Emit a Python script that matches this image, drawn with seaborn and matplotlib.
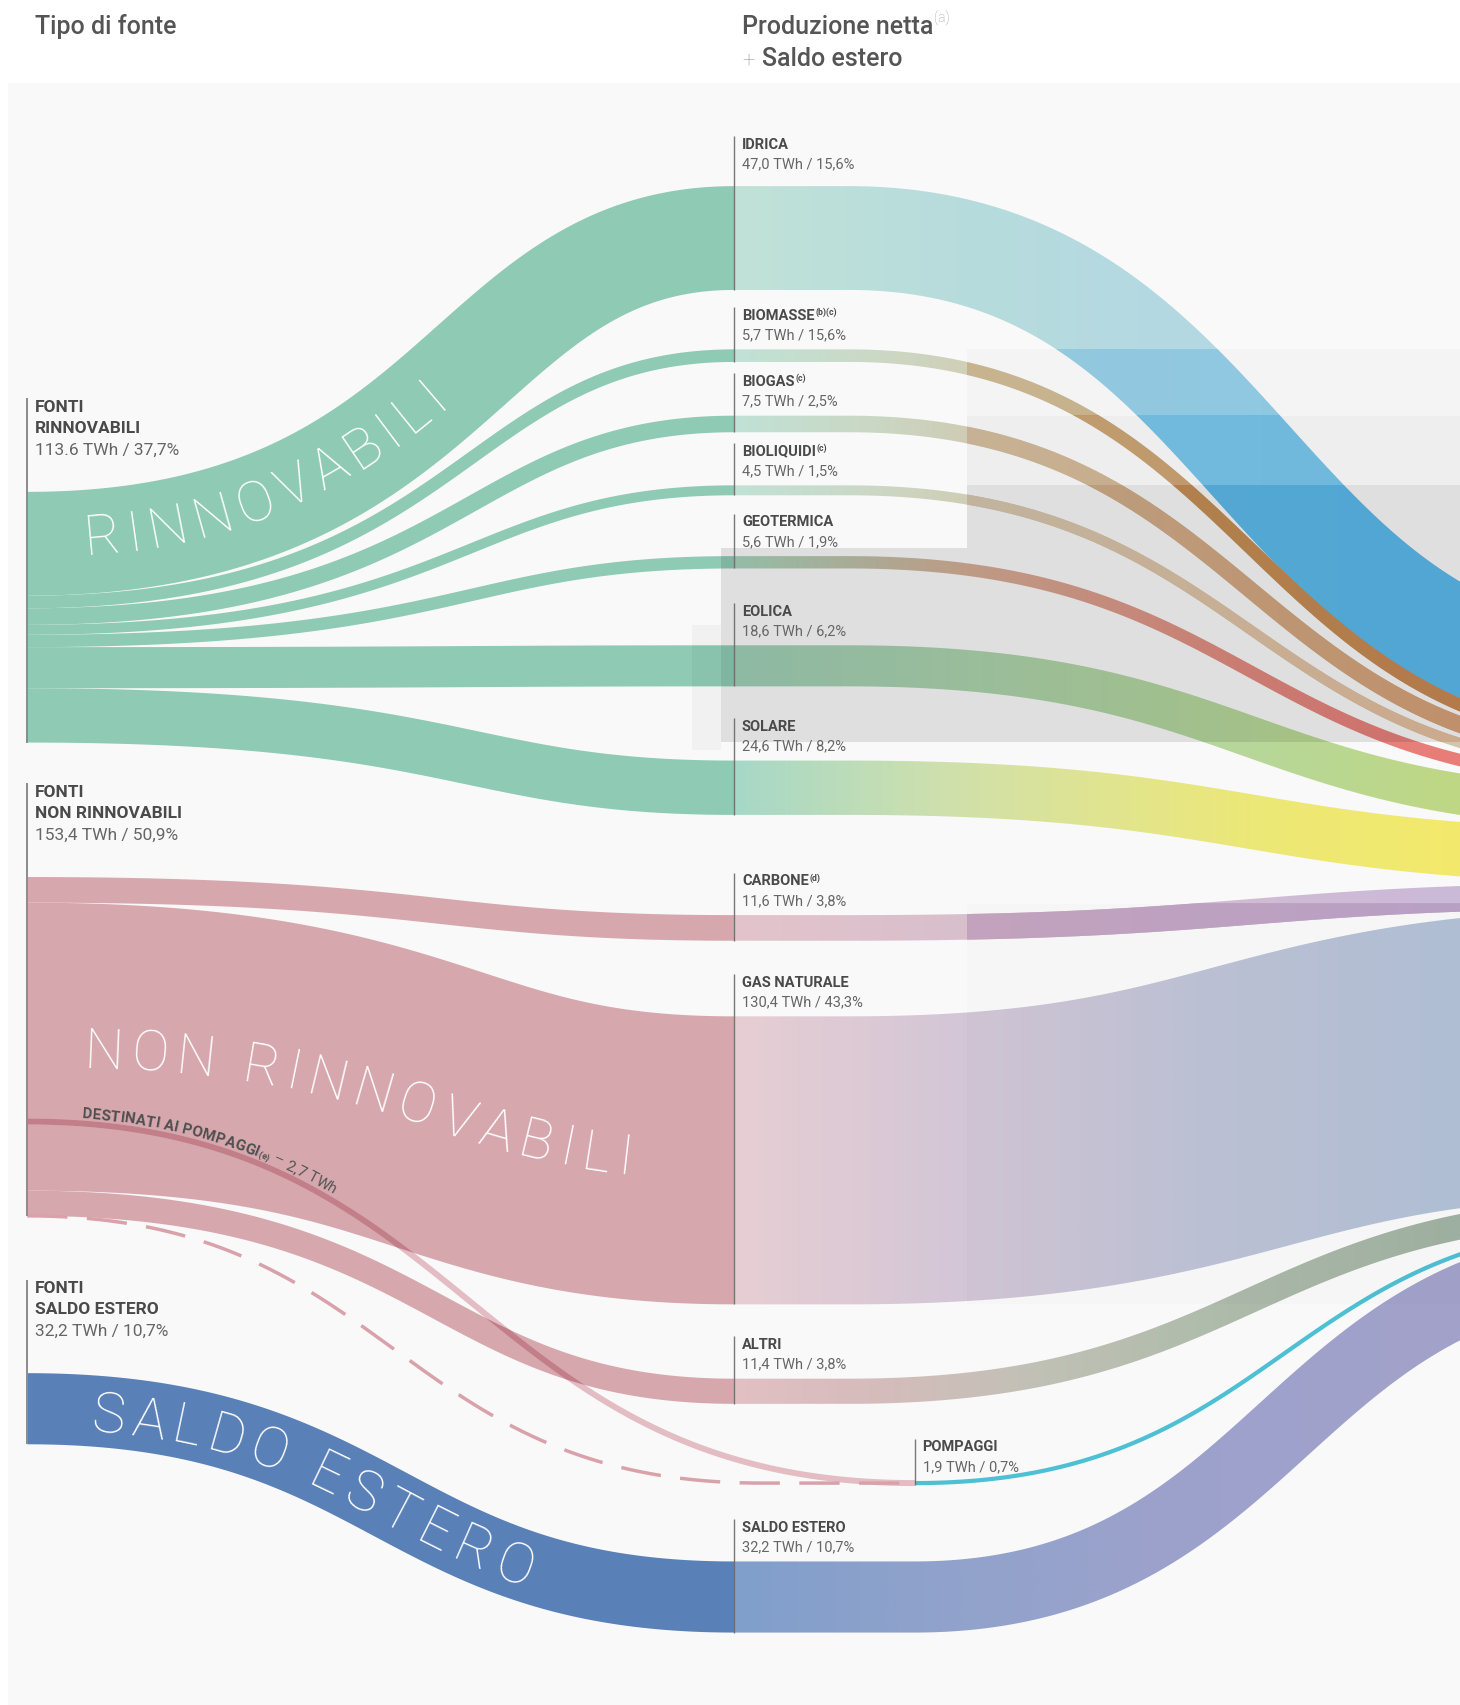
import numpy as np
import matplotlib
matplotlib.use("Agg")
import matplotlib.pyplot as plt
import seaborn as sns
from matplotlib.path import Path
from matplotlib.patches import PathPatch, Rectangle
from matplotlib.colors import to_rgb

sns.set_theme(style="white")
plt.rcParams['font.family'] = ['Roboto', 'DejaVu Sans']

# ------------------------------------------------------------------ data
SRC_FIRST = "FONTI"
SRC_NAMES = ["RINNOVABILI", "NON RINNOVABILI", "SALDO ESTERO"]
SRC_VALUES = [113.6, 153.4, 32.2]
SRC_LABELS = ["113.6 TWh / 37,7%", "153,4 TWh / 50,9%", "32,2 TWh / 10,7%"]
SRC_BIG = ["RINNOVABILI", "NON RINNOVABILI", "SALDO ESTERO"]

MID_NAMES = ["IDRICA", "BIOMASSE", "BIOGAS", "BIOLIQUIDI", "GEOTERMICA", "EOLICA",
             "SOLARE", "CARBONE", "GAS NATURALE", "ALTRI", "POMPAGGI", "SALDO ESTERO"]
MID_SUPS = ["", "(b)(c)", "(c)", "(c)", "", "", "", "(d)", "", "", "", ""]
MID_VALUES = [47.0, 5.7, 7.5, 4.5, 5.6, 18.6, 24.6, 11.6, 130.4, 11.4, 1.9, 32.2]
MID_PCTS = ["15,6%", "15,6%", "2,5%", "1,5%", "1,9%", "6,2%", "8,2%", "3,8%",
            "43,3%", "3,8%", "0,7%", "10,7%"]
MID_SRC = [0, 0, 0, 0, 0, 0, 0, 1, 1, 1, -1, 2]

PUMP_IN = 2.7
PUMP_TEXT = "DESTINATI AI POMPAGGI"
PUMP_SUP = "(e)"
PUMP_VAL = "2,7 TWh"

TITLE_LEFT = "Tipo di fonte"
TITLE_MID1 = "Produzione netta"
TITLE_MID_SUP = "(a)"
TITLE_MID2 = "Saldo estero"

# ------------------------------------------------------------------ layout / style
W, H = 1342, 1568
K = 2.03                       # px per TWh
X_L, X_M, X_P, X_R = 25, 675, 841, 1520
SRC_TOP0 = 453
SRC_GAPS = [0, 123.4, 144.6]
SRC_CTRL = [425, 398, 358]
MID_TOP0 = 172
MID_GAPS = [0, 54.6, 49.4, 48.8, 55.9, 70.6, 68.2, 92.1, 69.5, 68.3, 70.9, 70.1]
MID_LABEL_EXTRA = [7, 0, 0, 0, 0, 0, 0, 0, 0, 0, 0, 0]
RIGHT_TOP = 582
RIGHT_BEND = 780
RIGHT_BEND_SALDO = 840
PUMP_SPLIT = 0.76
DASH_END = 700
REVEAL_X = 889

SRC_COLORS = ['#8ecab4', '#d6a8ae', '#5a80b8']
RIGHT_STOPS = {
    'IDRICA': [(675, '#c0e2d8'), (880, '#b7dcdc'), (1100, '#b4d8e3'), (1342, '#b0d4e6')],
    'BIOMASSE': [(675, '#c0e2d6'), (800, '#cbd9c6'), (890, '#d1cfb7'), (1342, '#cfc6ad')],
    'BIOGAS': [(675, '#c0e2d6'), (800, '#cad8c4'), (890, '#cfccb4'), (1342, '#cdc2a8')],
    'BIOLIQUIDI': [(675, '#c0e2d6'), (800, '#cbd8c5'), (890, '#d0cdb5'), (1342, '#d2c5ad')],
    'GEOTERMICA': [(675, '#a5d3bb'), (890, '#d4ad95'), (1150, '#e28a7f'), (1342, '#e97c78')],
    'EOLICA': [(675, '#9fcfb7'), (890, '#acd3ad'), (1150, '#b7d79a'), (1342, '#bfd884')],
    'SOLARE': [(675, '#a6d8c8'), (864, '#cee0ad'), (1000, '#dfe493'), (1150, '#ece877'), (1342, '#f3ea6c')],
    'CARBONE': [(675, '#e3c4cb'), (889, '#d8bfcd'), (1342, '#cbb9d9')],
    'GAS NATURALE': [(675, '#e7ced3'), (864, '#d5c7d6'), (1100, '#bfc3d6'), (1342, '#b2c1d7')],
    'ALTRI': [(675, '#e2c0c4'), (800, '#d6bcbc'), (950, '#c1c1b6'), (1100, '#b0bcac'), (1342, '#9fb2a2')],
    'POMPAGGI': [(841, '#4ec0d4'), (1342, '#4ec0d4')],
    'SALDO ESTERO': [(675, '#809fcb'), (850, '#8fa2cb'), (1050, '#9ba2cc'), (1342, '#a3a1ca')],
}
SAT_STOPS = {
    'IDRICA': [(889, '#62bdeb'), (1342, '#5bb9ec')],
    'BIOMASSE': [(889, '#c49558'), (1342, '#c98954')],
    'BIOGAS': [(889, '#d1b492'), (1342, '#d6a178')],
    'BIOLIQUIDI': [(889, '#d8c9b0'), (1342, '#e4be9e')],
}
CARBONE_SAT = [(889, '#c6a5c0'), (1342, '#bba2c8')]

DARK = '#4a4a4a'
GREY = '#666666'

# ------------------------------------------------------------------ derived positions
src_w = [v * K for v in SRC_VALUES]
src_top = []
y = SRC_TOP0
for g, w in zip(SRC_GAPS, src_w):
    y += g
    src_top.append(y)
    y += w

mid_w = [v * K for v in MID_VALUES]
mid_top = []
y = MID_TOP0
for g, w in zip(MID_GAPS, mid_w):
    y += g
    mid_top.append(y)
    y += w
mid_c = [t + w / 2 for t, w in zip(mid_top, mid_w)]

right_c = []
y = RIGHT_TOP
for w in mid_w:
    right_c.append(y + w / 2)
    y += w

left_c = [None] * len(MID_NAMES)
off = list(src_top)
for i, s in enumerate(MID_SRC):
    if s < 0:
        continue
    left_c[i] = off[s] + mid_w[i] / 2
    off[s] += mid_w[i]

i_gas = MID_NAMES.index("GAS NATURALE")
i_pump = MID_NAMES.index("POMPAGGI")
pump_y0 = left_c[i_gas] - mid_w[i_gas] / 2 + PUMP_SPLIT * mid_w[i_gas]


# ------------------------------------------------------------------ helpers
def bez(x0, y0, x1, y1, xc=None, n=600):
    t = np.linspace(0, 1, n)
    xm = (x0 + x1) / 2 if xc is None else xc
    bx = (1 - t) ** 3 * x0 + 3 * (1 - t) ** 2 * t * xm + 3 * (1 - t) * t ** 2 * xm + t ** 3 * x1
    by = (1 - t) ** 3 * y0 + 3 * (1 - t) ** 2 * t * y0 + 3 * (1 - t) * t ** 2 * y1 + t ** 3 * y1
    return np.column_stack([bx, by])


def centerline(xa, ya, xb, yb, cs, ce, xc=None):
    parts = []
    if cs > xa + 1e-6:
        parts.append(np.column_stack([np.linspace(xa, cs, 40), np.full(40, ya)])[:-1])
    parts.append(bez(cs, ya, ce, yb, xc))
    if ce < xb - 1e-6:
        parts.append(np.column_stack([np.linspace(ce, xb, 40), np.full(40, yb)])[1:])
    return np.vstack(parts)


def stroke_poly(pts, w):
    d = np.gradient(pts, axis=0)
    d /= np.linalg.norm(d, axis=1)[:, None]
    nrm = np.column_stack([d[:, 1], -d[:, 0]])
    top = pts + nrm * w / 2
    bot = pts - nrm * w / 2
    return np.vstack([top, bot[::-1]])


def poly_patch(poly, add=True):
    p = PathPatch(Path(np.vstack([poly, poly[:1]]), closed=True),
                  fc='none', ec='none', lw=0, transform=ax.transData)
    if add:
        ax.add_patch(p)
    return p


def grad_colors(stops, xs):
    sx = np.array([s[0] for s in stops], float)
    cols = np.array([to_rgb(s[1]) for s in stops])
    return np.stack([np.interp(xs, sx, cols[:, k]) for k in range(3)], -1)


def grad_fill(poly, stops, x0, x1, y0, y1, z, alpha=1.0):
    patch = poly_patch(poly)
    xs = np.linspace(x0, x1, 700)
    img = grad_colors(stops, xs)[None, :, :]
    im = ax.imshow(img, extent=(x0, x1, y1, y0), aspect='auto',
                   interpolation='bilinear', zorder=z, alpha=alpha)
    im.set_clip_path(patch)
    return im


# ------------------------------------------------------------------ figure
fig = plt.figure(figsize=(14.6, 17.06), dpi=100)
fig.patch.set_facecolor('white')
ax = fig.add_axes([0, 0, 1, 1])
ax.set_xlim(0, W)
ax.set_ylim(H, 0)
ax.axis('off')
renderer = fig.canvas.get_renderer()
PXU = 1460 / W


def tw(s, **kw):
    t = ax.text(0, 0, s, **kw)
    bb = t.get_window_extent(renderer)
    t.remove()
    return bb.width / PXU


def cw(c, **kw):
    if c == ' ':
        return tw('x x', **kw) - tw('xx', **kw)
    return tw(c, **kw)


def path_text(pts, items, start_x, end_x=None, offset=0.0, z=9):
    seg = np.diff(pts, axis=0)
    sl = np.hypot(seg[:, 0], seg[:, 1])
    arc = np.concatenate([[0], np.cumsum(sl)])
    a0 = np.interp(start_x, pts[:, 0], arc)
    ws = [cw(c, **kw) for c, kw, _ in items]
    track = 0.0
    if end_x is not None:
        a1 = np.interp(end_x, pts[:, 0], arc)
        track = (a1 - a0 - sum(ws)) / max(len(items) - 1, 1)
    pos = a0
    for (c, kw, dy), w in zip(items, ws):
        ac = pos + w / 2
        xx = np.interp(ac, arc, pts[:, 0])
        yy = np.interp(ac, arc, pts[:, 1])
        i = int(min(max(np.searchsorted(arc, ac), 1), len(seg)))
        dx, dyy = seg[i - 1]
        L = np.hypot(dx, dyy)
        nx, ny = dyy / L, -dx / L
        ang = np.degrees(np.arctan2(-dyy, dx))
        o = offset + dy
        if c != ' ':
            ax.text(xx + nx * o, yy + ny * o, c, rotation=ang, rotation_mode='anchor',
                    ha='center', va='baseline', zorder=z, **kw)
        pos += w + track


# background panel
ax.add_patch(Rectangle((7, 77), W, H, color='#f9f9f9', lw=0, zorder=0))

# ---- right-hand flows (middle column -> beyond the right edge)
right_polys = {}
for i, name in enumerate(MID_NAMES):
    if name == 'POMPAGGI':
        xs0, bend = X_P, X_P
    else:
        xs0 = X_M
        bend = RIGHT_BEND_SALDO if name == 'SALDO ESTERO' else RIGHT_BEND
    pts = centerline(xs0, mid_c[i], X_R, right_c[i], bend, X_R)
    poly = stroke_poly(pts, mid_w[i])
    right_polys[name] = poly
    ys = poly[:, 1]
    grad_fill(poly, RIGHT_STOPS[name], xs0, W + 2, ys.min() - 2, ys.max() + 2, z=2)

# ---- left-hand flows (sources -> middle column)
left_polys = {}
left_pts = {}
for i, s in enumerate(MID_SRC):
    if s < 0:
        continue
    pts = centerline(X_L, left_c[i], X_M, mid_c[i], X_L, X_M, xc=SRC_CTRL[s])
    left_pts[i] = pts
    poly = stroke_poly(pts, mid_w[i])
    left_polys[i] = poly
    ax.fill(poly[:, 0], poly[:, 1], color=SRC_COLORS[s], lw=0, zorder=3)

# ---- flow destined to pumping
pts_p = centerline(X_L, pump_y0, X_P, mid_c[i_pump], X_L, X_P)
poly_p = stroke_poly(pts_p, PUMP_IN * K)
ax.fill(poly_p[:, 0], poly_p[:, 1], color='#e3bdc3', lw=0, zorder=4)
for i, s in enumerate(MID_SRC):
    if s == 1:
        f = ax.fill(poly_p[:, 0], poly_p[:, 1], color='#c27f89', lw=0, zorder=4.5)[0]
        f.set_clip_path(poly_patch(left_polys[i], add=False))

nr_bottom = src_top[1] + src_w[1]
pts_d = centerline(X_L, nr_bottom, X_P, mid_c[i_pump], X_L, DASH_END)
ax.plot(pts_d[:, 0], pts_d[:, 1], color='#d9a2ab', lw=2.5, ls=(0, (11.6, 5.6)),
        dash_capstyle='butt', zorder=5)

# ---- highlighted rectangles (reveal + shading), derived from node positions
i_bm, i_bg, i_bl, i_geo, i_sol = 1, 2, 3, 4, 6
i_car = MID_NAMES.index("CARBONE")
r_bottom = mid_top[i_sol] - 17
regions = [
    (REVEAL_X, W, mid_top[i_bm], mid_top[i_bg], 0.38, 0.02),
    (REVEAL_X, W, mid_top[i_bg], mid_top[i_bl], 0.70, 0.045),
    (REVEAL_X, W, mid_top[i_bl], r_bottom, 1.0, 0.10),
]
for (x0, x1, y0, y1, rev, dark) in regions:
    for name, stops in SAT_STOPS.items():
        grad_fill(right_polys[name], stops, x0, x1, y0, y1, z=6, alpha=rev)
    ax.add_patch(Rectangle((x0, y0), x1 - x0 + 5, y1 - y0, color='black', alpha=dark, lw=0, zorder=7))
ax.add_patch(Rectangle((X_M - 12, mid_top[i_geo] - 7), REVEAL_X - X_M + 12, r_bottom - mid_top[i_geo] + 7,
                       color='black', alpha=0.10, lw=0, zorder=7))
ax.add_patch(Rectangle((X_M - 39, mid_top[i_geo] + 63), 27, r_bottom - mid_top[i_geo] - 56,
                       color='black', alpha=0.03, lw=0, zorder=7))
car_y0 = mid_top[i_car] - 10
car_y1 = mid_top[i_gas] + mid_w[i_gas]
grad_fill(right_polys['CARBONE'], CARBONE_SAT, REVEAL_X, W, car_y0, car_y1, z=6)
ax.add_patch(Rectangle((REVEAL_X, car_y0), W - REVEAL_X + 5, car_y1 - car_y0,
                       color='black', alpha=0.012, lw=0, zorder=7))

ax.set_xlim(0, W)
ax.set_ylim(H, 0)

# ---- node lines
for s in range(3):
    ax.plot([X_L, X_L], [src_top[s] - 86, src_top[s] + src_w[s]], color='#8c8c8c', lw=1.4, zorder=8,
            solid_capstyle='butt')
for i, name in enumerate(MID_NAMES):
    x = X_P if name == 'POMPAGGI' else X_M
    ax.plot([x, x], [mid_top[i] - 33 - MID_LABEL_EXTRA[i] - 6, mid_top[i] + mid_w[i]],
            color='#6a6a6a', lw=1.0, alpha=0.9, zorder=8, solid_capstyle='butt')

# ---- big labels along the flows
big_kw = dict(fontsize=40, fontweight='light', color='white')
i_idr = 0
i_sal = MID_NAMES.index("SALDO ESTERO")
path_text(left_pts[i_idr], [(c, big_kw, 0) for c in SRC_BIG[0]], 78, 406, offset=-11)
path_text(left_pts[i_gas], [(c, big_kw, 0) for c in SRC_BIG[1]], 78, 582, offset=-18)
path_text(left_pts[i_sal], [(c, big_kw, 0) for c in SRC_BIG[2]], 85, 490, offset=-18)

# pumping annotation along its line
b_kw = dict(fontsize=11, fontweight='bold', color='#505050')
s_kw = dict(fontsize=6.5, fontweight='bold', color='#505050')
r_kw = dict(fontsize=11, fontweight='normal', color='#555555')
items = [(c, b_kw, 0) for c in PUMP_TEXT] + [(c, s_kw, 0) for c in PUMP_SUP] + \
        [(c, r_kw, 0) for c in " – "] + [(c, r_kw, 0) for c in PUMP_VAL]
path_text(pts_p, items, 75, None, offset=6, z=9)

# ---- node labels
for s in range(3):
    t = src_top[s]
    kwb = dict(fontsize=12.5, fontweight='bold', color=DARK, zorder=10, va='baseline', ha='left')
    ax.text(32, t - 80 + 5.7, SRC_FIRST, **kwb)
    ax.text(32, t - 61 + 5.7, SRC_NAMES[s], **kwb)
    ax.text(32, t - 41 + 5.7, SRC_LABELS[s], fontsize=12.5, color=GREY, zorder=10,
            va='baseline', ha='left')

for i, name in enumerate(MID_NAMES):
    x = (X_P if name == 'POMPAGGI' else X_M) + 7
    t = mid_top[i] - MID_LABEL_EXTRA[i]
    nb = t - 33 + 4.8
    ax.text(x, nb, name, fontsize=10.5, fontweight='bold', color=DARK, zorder=10,
            va='baseline', ha='left')
    if MID_SUPS[i]:
        wname = tw(name, fontsize=10.5, fontweight='bold')
        ax.text(x + wname + 0.5, nb - 4.5, MID_SUPS[i], fontsize=6.3, fontweight='bold',
                color=DARK, zorder=10, va='baseline', ha='left')
    val = f"{MID_VALUES[i]:.1f}".replace('.', ',') + " TWh / " + MID_PCTS[i]
    ax.text(x, t - 15 + 4.8, val, fontsize=10.5, color=GREY, zorder=10, va='baseline', ha='left')

# ---- column titles
t_kw = dict(fontsize=18, fontweight='medium', color='#555555', va='baseline', ha='left', zorder=10)
ax.text(32, 31, TITLE_LEFT, **t_kw)
ax.text(682, 31, TITLE_MID1, **t_kw)
w1 = tw(TITLE_MID1, fontsize=18, fontweight='medium')
ax.text(682 + w1 + 1, 21, TITLE_MID_SUP, fontsize=10, fontweight='light', color='#a0a0a0',
        va='baseline', ha='left', zorder=10)
ax.text(682, 61, "+", fontsize=16, fontweight='light', color='#9a9a9a', va='baseline', ha='left', zorder=10)
ax.text(700, 61, TITLE_MID2, **t_kw)

fig.savefig("out.png", dpi=100, facecolor='white')
